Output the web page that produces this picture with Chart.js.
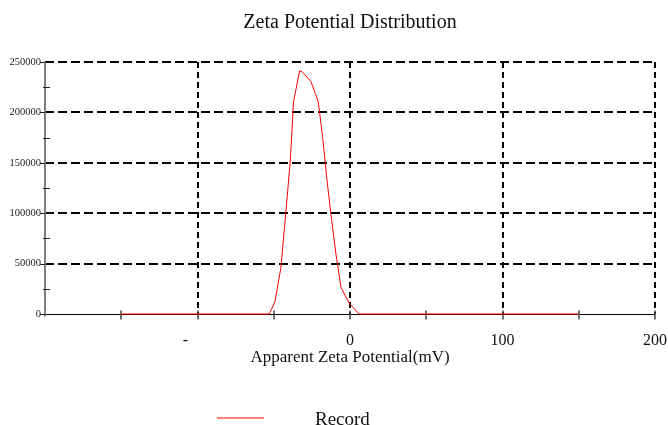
<!DOCTYPE html>
<html>
<head>
<meta charset="utf-8">
<script src="https://cdn.jsdelivr.net/npm/chart.js@4"></script>
<style>
  html, body { margin: 0; padding: 0; background: #fff; }
  #wrap { width: 668px; height: 425px; position: relative; }
</style>
</head>
<body>
<div id="wrap"><canvas id="chart" width="668" height="425"></canvas></div>
<script>
const TITLE = "Zeta Potential Distribution";
const X_TITLE = "Apparent Zeta Potential(mV)";
const SERIES_NAME = "Record";

// apparent zeta potential (mV) and counts
const zeta = [-150, -53, -49.3, -45.3, -42, -39.2, -37, -33, -31, -25.6, -20.8, -18, -15, -12.5, -9.2, -5.9, -0.5, 6, 150];
const counts = [0, 0, 11600, 46100, 102000, 151500, 210700, 241400, 239800, 230500, 210700, 176000, 131700, 98800, 59300, 26400, 10600, 0, 0];

const xMajor = [-100, 0, 100, 200];          // dashed vertical grid
const xTicks = [-150, -100, -50, 0, 50, 100, 150, 200];
const xLabels = { "-100": "-      ", "0": "0", "100": "100", "200": "200" };
const yMajor = [50000, 100000, 150000, 200000, 250000];
const yMinor = [25000, 75000, 125000, 175000, 225000];

const SERIF = "'Liberation Serif', 'Times New Roman', serif";

function seg(ctx, x1, y1, x2, y2) {
  ctx.beginPath();
  ctx.moveTo(x1, y1);
  ctx.lineTo(x2, y2);
  ctx.stroke();
}

const frame = {
  id: "frame",
  beforeDatasetsDraw(chart) {
    const { ctx, chartArea: a, scales: { x, y } } = chart;
    ctx.save();
    ctx.strokeStyle = "#000";
    ctx.lineWidth = 2;
    ctx.setLineDash([9, 4]);
    yMajor.forEach(v => {
      const py = Math.round(y.getPixelForValue(v));
      seg(ctx, a.left, py, a.right, py);
    });
    ctx.setLineDash([6, 4]);
    xMajor.forEach(v => {
      const px = Math.round(x.getPixelForValue(v));
      seg(ctx, px, a.top, px, a.bottom);
    });
    ctx.setLineDash([]);

    // x axis line + ticks
    const by = Math.round(y.getPixelForValue(0)) + 0.5;
    ctx.lineWidth = 1;
    ctx.strokeStyle = "#000";
    seg(ctx, a.left, by, a.right, by);
    ctx.strokeStyle = "#444";
    ctx.lineWidth = 1.5;
    xTicks.forEach(v => {
      const px = Math.round(x.getPixelForValue(v));
      seg(ctx, px, by - 4, px, by + 5);
    });

    // y axis line + ticks
    const ax = Math.round(x.getPixelForValue(-200));
    ctx.strokeStyle = "#808080";
    ctx.lineWidth = 2;
    seg(ctx, ax, a.top, ax, by + 2);
    ctx.lineWidth = 1;
    ctx.strokeStyle = "#222";
    [0].concat(yMajor).forEach(v => {
      const py = Math.round(y.getPixelForValue(v)) + 0.5;
      seg(ctx, ax - 5, py, ax, py);
    });
    yMinor.forEach(v => {
      const py = Math.round(y.getPixelForValue(v)) + 0.5;
      seg(ctx, ax - 2, py, ax + 5, py);
    });
    ctx.restore();
  },
  afterDraw(chart) {
    const { ctx, chartArea: a } = chart;
    ctx.save();
    ctx.fillStyle = "#111";
    ctx.textAlign = "center";
    ctx.textBaseline = "alphabetic";
    ctx.font = "20px " + SERIF;
    ctx.fillText(TITLE, (a.left + a.right) / 2, 28);

    // legend
    ctx.strokeStyle = "#ff0000";
    ctx.lineWidth = 1;
    seg(ctx, 217, 418, 264, 418);
    ctx.textAlign = "left";
    ctx.font = "19px " + SERIF;
    ctx.fillText(SERIES_NAME, 315, 425);
    ctx.restore();
  }
};

new Chart(document.getElementById("chart"), {
  type: "line",
  data: {
    datasets: [{
      label: SERIES_NAME,
      data: zeta.map((v, i) => ({ x: v, y: counts[i] })),
      borderColor: "#ff0000",
      borderWidth: 1,
      pointRadius: 0,
      tension: 0,
      fill: false,
      clip: false,
    }]
  },
  options: {
    responsive: false,
    animation: false,
    layout: { padding: { top: 62, right: 0, bottom: 53, left: 0 } },
    plugins: { legend: { display: false }, title: { display: false }, tooltip: { enabled: false } },
    scales: {
      x: {
        type: "linear",
        min: -200, max: 200,
        grid: { display: false, drawTicks: false },
        border: { display: false },
        afterFit: s => { s.height = 58; s.paddingRight = 13; },
        afterBuildTicks: s => { s.ticks = xTicks.concat([-200]).sort((p, q) => p - q).map(v => ({ value: v })); },
        ticks: {
          autoSkip: false,
          maxRotation: 0,
          padding: 17,
          color: "#111",
          font: { family: SERIF, size: 16 },
          callback: v => xLabels[String(v)] || "",
        },
        title: {
          display: true,
          text: X_TITLE,
          color: "#111",
          font: { family: SERIF, size: 17 },
          padding: { top: 0, bottom: 4 },
        },
      },
      y: {
        min: 0, max: 250000,
        grid: { display: false, drawTicks: false },
        border: { display: false },
        afterFit: s => { s.width = 45; },
        ticks: {
          stepSize: 50000,
          padding: 4,
          color: "#222",
          font: { family: SERIF, size: 10.5 },
          callback: v => String(v),
        },
      },
    },
  },
  plugins: [frame],
});
</script>
</body>
</html>
